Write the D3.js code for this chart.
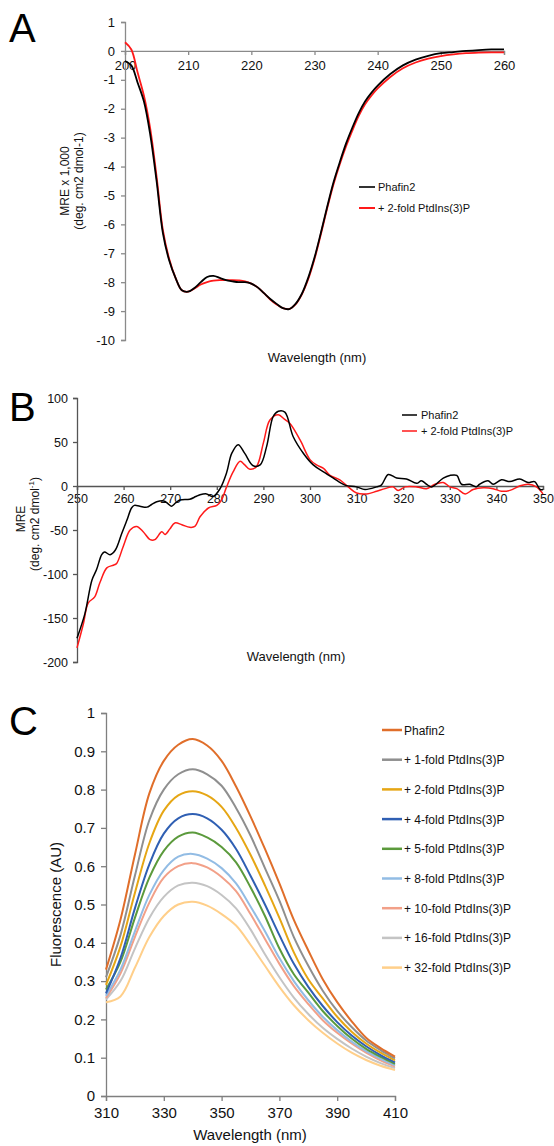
<!DOCTYPE html>
<html>
<head>
<meta charset="utf-8">
<script src="https://cdn.jsdelivr.net/npm/d3@7"></script>
<style>
body { margin: 0; background: #fff; }
svg { display: block; font-family: "Liberation Sans", Arial, sans-serif; }
</style>
</head>
<body>
<svg id="fig" width="554" height="1146"></svg>
<script>
// ---------- Panel A : far-UV CD ----------
const A_wl = [200, 201, 202, 203, 204, 205, 206, 207, 208, 209, 210, 211, 212, 213, 214, 215, 216, 217, 218, 219,
    220, 221, 222, 223, 224, 225, 226, 227, 228, 229, 230, 231, 232, 233, 234, 235, 236, 237, 238, 239,
    240, 242, 244, 246, 248, 250, 252, 254, 256, 258, 260];
const A_phafin2 = [-0.35, -0.5, -1.1, -1.75, -2.9, -4.5, -6.3, -7.25, -7.85, -8.28, -8.33, -8.2, -8.0, -7.82, -7.78, -7.85, -7.93, -7.97, -8.0, -8.0,
    -8.05, -8.18, -8.38, -8.58, -8.75, -8.9, -8.93, -8.75, -8.4, -7.85, -7.15, -6.3, -5.4, -4.55, -3.85, -3.2, -2.65, -2.15, -1.75, -1.45,
    -1.2, -0.8, -0.5, -0.3, -0.17, -0.08, -0.04, 0.0, 0.03, 0.05, 0.05];
const A_ptdins = [0.3, 0.05, -0.75, -1.55, -2.7, -4.35, -6.2, -7.2, -7.85, -8.28, -8.33, -8.22, -8.08, -8.0, -7.95, -7.93, -7.93, -7.93, -7.94, -7.97,
    -8.05, -8.18, -8.38, -8.6, -8.77, -8.9, -8.93, -8.77, -8.42, -7.9, -7.2, -6.35, -5.45, -4.62, -3.92, -3.3, -2.75, -2.25, -1.85, -1.55,
    -1.3, -0.9, -0.6, -0.4, -0.27, -0.18, -0.12, -0.08, -0.06, -0.05, -0.05];
const A_xticks = [200, 210, 220, 230, 240, 250, 260];
const A_yticks = [-10, -9, -8, -7, -6, -5, -4, -3, -2, -1, 0, 1];

// ---------- Panel B : near-UV CD ----------
const B_wl_phafin2 = [250, 251.7, 253.2, 254.2, 255.3, 255.9, 257.1, 258.2, 259.6, 260.7, 261.7, 262.3, 263.5, 265, 266, 267.1, 268.6, 269.5,
    270.3, 271.2, 272.1, 274.2, 275.5, 276.4, 277.8, 279.2, 280.7, 282.1, 283.2, 284.6, 286, 287.8, 289.3, 290.7, 292.1, 293.2, 294.6,
    296.4, 298.6, 300.7, 302.9, 305, 307.5, 310, 311.8, 314.3, 315.3, 316.8, 318.6, 320.7, 322.9, 323.9, 325, 326.1, 328.6, 330, 331.5,
    332.5, 334.3, 335.7, 336.4, 338.2, 339.3, 341.1, 342.9, 345, 346.8, 348.2, 349.4, 350];
const B_phafin2 = [-173, -145, -107, -95, -78, -75, -78, -73, -54, -39, -25, -22, -23, -24, -21, -18, -17, -20,
    -23, -19, -16, -15, -12, -10, -9, -12, -3, 15, 37, 47, 37, 23, 24, 45, 79, 85, 84,
    56, 37, 24, 16, 9, 1, -1, -4, -1, 1, 13, 9, 8, 3, 6, 2, -1, 9, 12, 12,
    2, 2, -1, 2, 6, 2, 7, 5, 8, 4, 5, -4, -4];
const B_wl_ptdins = [250, 251.4, 252.4, 253.8, 254.9, 256.4, 257.8, 258.5, 259.9, 261.4, 262.8, 264.2, 265.7, 266.7, 268.2, 268.9, 269.9,
    271, 272.5, 274.2, 275.3, 276.4, 278.2, 280, 281, 282.1, 283.5, 285, 286, 287.1, 288.5, 290, 291.4, 293.2, 294.5, 295.7, 297.9,
    300, 301.4, 302.9, 304.3, 306.4, 308.2, 310, 312.2, 314.3, 316.1, 317.8, 318.9, 320.4, 322.9, 325, 326.8, 328.6, 330, 331.5,
    333.3, 335, 337.2, 339.3, 341.1, 342.9, 345, 346.8, 348.6, 350];
const B_ptdins = [-184, -156, -133, -126, -110, -93, -90, -88, -69, -50, -46, -52, -61, -61, -52, -55, -49,
    -42, -44, -47, -46, -35, -25, -22, -16, -1, 16, 28, 24, 19, 22, 49, 75, 81, 76, 71, 52,
    30, 24, 20, 12, 7, -1, -8, -9, -6, -3, -1, -5, -1, -1, -3, 2, 4, -1, -3,
    -9, -4, -2, -3, -6, -5, 0, 2, -1, -9];
const B_xticks = [250, 260, 270, 280, 290, 300, 310, 320, 330, 340, 350];
const B_yticks = [-200, -150, -100, -50, 0, 50, 100];

// ---------- Panel C : fluorescence titration ----------
const C_wl = [310, 315, 320, 325, 330, 335, 340, 345, 350, 355, 360, 365, 370, 375, 380, 385, 390, 395, 400, 405, 410];
const C_phafin2 = [0.33, 0.46, 0.63, 0.79, 0.875, 0.917, 0.932, 0.915, 0.875, 0.808, 0.73, 0.645, 0.555, 0.46, 0.38, 0.305, 0.245, 0.195, 0.152, 0.125, 0.103];
const C_fold1 = [0.31, 0.42, 0.575, 0.72, 0.8, 0.84, 0.853, 0.84, 0.81, 0.752, 0.68, 0.595, 0.51, 0.415, 0.34, 0.275, 0.222, 0.18, 0.145, 0.12, 0.098];
const C_fold2 = [0.29, 0.39, 0.53, 0.66, 0.745, 0.785, 0.796, 0.785, 0.755, 0.7, 0.63, 0.55, 0.465, 0.375, 0.305, 0.255, 0.207, 0.168, 0.137, 0.113, 0.093];
const C_fold4 = [0.268, 0.36, 0.49, 0.605, 0.685, 0.725, 0.736, 0.725, 0.695, 0.645, 0.575, 0.5, 0.42, 0.345, 0.285, 0.235, 0.193, 0.158, 0.13, 0.107, 0.088];
const C_fold5 = [0.278, 0.35, 0.465, 0.57, 0.64, 0.677, 0.688, 0.675, 0.65, 0.61, 0.545, 0.47, 0.385, 0.318, 0.27, 0.222, 0.183, 0.15, 0.123, 0.102, 0.084];
const C_fold8 = [0.262, 0.33, 0.43, 0.525, 0.59, 0.625, 0.632, 0.62, 0.595, 0.555, 0.495, 0.43, 0.36, 0.3, 0.25, 0.207, 0.172, 0.142, 0.117, 0.097, 0.08];
const C_fold10 = [0.256, 0.32, 0.415, 0.505, 0.57, 0.6, 0.608, 0.597, 0.572, 0.535, 0.475, 0.41, 0.345, 0.287, 0.24, 0.198, 0.165, 0.137, 0.113, 0.093, 0.077];
const C_fold16 = [0.252, 0.3, 0.385, 0.465, 0.52, 0.55, 0.557, 0.548, 0.525, 0.49, 0.435, 0.37, 0.31, 0.257, 0.214, 0.178, 0.149, 0.124, 0.103, 0.086, 0.073];
const C_fold32 = [0.245, 0.26, 0.335, 0.415, 0.47, 0.5, 0.507, 0.497, 0.475, 0.445, 0.395, 0.34, 0.285, 0.237, 0.198, 0.165, 0.137, 0.113, 0.094, 0.079, 0.068];
const C_labels = ["Phafin2", "+ 1-fold PtdIns(3)P", "+ 2-fold PtdIns(3)P", "+ 4-fold PtdIns(3)P", "+ 5-fold PtdIns(3)P",
    "+ 8-fold PtdIns(3)P", "+ 10-fold PtdIns(3)P", "+ 16-fold PtdIns(3)P", "+ 32-fold PtdIns(3)P"];
const C_colors = ["#e06e2a", "#8f8f8f", "#e6a614", "#2f5fb3", "#5b9a3c", "#92bce4", "#f2a088", "#c4c4c4", "#ffcf8a"];
const C_xticks = [310, 330, 350, 370, 390, 410];
const C_yticks = [0, 0.1, 0.2, 0.3, 0.4, 0.5, 0.6, 0.7, 0.8, 0.9, 1];

const FONT = '"Liberation Sans", Arial, sans-serif';
const svg = d3.select("#fig");
svg.append("rect").attr("width", 554).attr("height", 1146).attr("fill", "#fff");

// plain hyphen for negatives, like the original figure
const plain = d => String(+d.toFixed(1));

function styleAxis(sel, color, size) {
    sel.attr("font-family", null).attr("font-size", null);
    sel.select(".domain").attr("stroke", color).attr("stroke-width", 1.3);
    sel.selectAll(".tick line").attr("stroke", color).attr("stroke-width", 1.3);
    sel.selectAll(".tick text").attr("fill", "#111").style("font-size", size + "px").style("font-family", FONT);
}

function letter(t, x, y) {
    svg.append("text").attr("x", x).attr("y", y).text(t)
        .style("font-size", "40px").style("font-family", FONT).attr("fill", "#000");
}

function addText(t, x, y, size, anchor, rotate) {
    let el = svg.append("text").attr("text-anchor", anchor || "start")
        .style("font-size", size + "px").style("font-family", FONT).attr("fill", "#111");
    if (rotate) el.attr("transform", `translate(${x},${y}) rotate(-90)`);
    else el.attr("x", x).attr("y", y);
    el.text(t);
    return el;
}

// ===== Panel A =====
let xA = d3.scaleLinear().domain([200, 260]).range([125, 504]);
let yA = d3.scaleLinear().domain([-10, 1]).range([340, 22]);

letter("A", 9, 42);

svg.append("g").attr("transform", `translate(0,${yA(0)})`)
    .call(d3.axisBottom(xA).tickValues(A_xticks).tickSize(4).tickPadding(6).tickFormat(plain))
    .call(g => styleAxis(g, "#8a8a8a", 13));
svg.append("g").attr("transform", `translate(${xA(200)},0)`)
    .call(d3.axisLeft(yA).tickValues(A_yticks).tickSize(4).tickPadding(6).tickFormat(plain))
    .call(g => styleAxis(g, "#8a8a8a", 13));

let lineA = d3.line().x((d, i) => xA(A_wl[i])).y(d => yA(d)).curve(d3.curveCatmullRom);
svg.append("path").datum(A_ptdins).attr("d", lineA).attr("fill", "none").attr("stroke", "#ff1a1a").attr("stroke-width", 1.8);
svg.append("path").datum(A_phafin2).attr("d", lineA).attr("fill", "none").attr("stroke", "#000").attr("stroke-width", 1.8);

addText("MRE x 1,000", 69, yA(-4.5), 12, "middle", true);
addText("(deg. cm2 dmol-1)", 83, yA(-4.5), 12, "middle", true);
addText("Wavelength (nm)", 317, 362, 13, "middle");

// legend A
[["Phafin2", "#333"], ["+ 2-fold PtdIns(3)P", "#ff1a1a"]].forEach((d, i) => {
    let y = 187 + i * 21;
    svg.append("line").attr("x1", 359).attr("x2", 375).attr("y1", y).attr("y2", y).attr("stroke", d[1]).attr("stroke-width", 2);
    addText(d[0], 378, y + 4, 11, "start");
});

// ===== Panel B =====
let xB = d3.scaleLinear().domain([250, 350]).range([77, 543]);
let yB = d3.scaleLinear().domain([-200, 100]).range([662, 398]);

letter("B", 9, 421);

svg.append("g").attr("transform", `translate(0,${yB(0)})`)
    .call(d3.axisBottom(xB).tickValues(B_xticks).tickSize(4).tickPadding(4).tickFormat(plain))
    .call(g => styleAxis(g, "#555", 12.5));
svg.append("g").attr("transform", `translate(${xB(250)},0)`)
    .call(d3.axisLeft(yB).tickValues(B_yticks).tickSize(4).tickPadding(5).tickFormat(plain))
    .call(g => styleAxis(g, "#555", 12.5));

let lineB1 = d3.line().x((d, i) => xB(B_wl_phafin2[i])).y(d => yB(d)).curve(d3.curveCatmullRom);
let lineB2 = d3.line().x((d, i) => xB(B_wl_ptdins[i])).y(d => yB(d)).curve(d3.curveCatmullRom);
svg.append("path").datum(B_ptdins).attr("d", lineB2).attr("fill", "none").attr("stroke", "#ff1a1a").attr("stroke-width", 1.5);
svg.append("path").datum(B_phafin2).attr("d", lineB1).attr("fill", "none").attr("stroke", "#000").attr("stroke-width", 1.5);

addText("MRE", 25, 519, 12, "middle", true);
let tB = svg.append("text").attr("text-anchor", "middle").attr("transform", "translate(39,524) rotate(-90)")
    .style("font-size", "12px").style("font-family", FONT).attr("fill", "#111");
tB.append("tspan").text("(deg. cm2 dmol");
tB.append("tspan").attr("dy", -5).style("font-size", "8px").text("-1");
tB.append("tspan").attr("dy", 5).text(")");
addText("Wavelength (nm)", 296, 661, 13, "middle");

// legend B
[["Phafin2", "#000"], ["+ 2-fold PtdIns(3)P", "#ff1a1a"]].forEach((d, i) => {
    let y = 415 + i * 16;
    svg.append("line").attr("x1", 402).attr("x2", 417).attr("y1", y).attr("y2", y).attr("stroke", d[1]).attr("stroke-width", 1.5);
    addText(d[0], 421, y + 4, 11, "start");
});

// ===== Panel C =====
let xC = d3.scaleLinear().domain([310, 410]).range([106, 395]);
let yC = d3.scaleLinear().domain([0, 1]).range([1096, 713]);

letter("C", 9, 735);

svg.append("g").attr("transform", `translate(0,${yC(0)})`)
    .call(d3.axisBottom(xC).tickValues(C_xticks).tickSize(5).tickPadding(6).tickFormat(plain))
    .call(g => styleAxis(g, "#7f7f7f", 15));
svg.append("g").attr("transform", `translate(${xC(310)},0)`)
    .call(d3.axisLeft(yC).tickValues(C_yticks).tickSize(5).tickPadding(6).tickFormat(plain))
    .call(g => styleAxis(g, "#7f7f7f", 15));

let C_series = [C_phafin2, C_fold1, C_fold2, C_fold4, C_fold5, C_fold8, C_fold10, C_fold16, C_fold32];
let lineC = d3.line().x((d, i) => xC(C_wl[i])).y(d => yC(d)).curve(d3.curveCatmullRom);
C_series.slice().reverse().forEach((s, j) => {
    let i = C_series.length - 1 - j;
    svg.append("path").datum(s).attr("d", lineC).attr("fill", "none").attr("stroke", C_colors[i]).attr("stroke-width", 2);
});

addText("Fluorescence (AU)", 61, yC(0.5), 15, "middle", true);
addText("Wavelength (nm)", 250, 1140, 15, "middle");

C_labels.forEach((lab, i) => {
    let y = 730 + i * 29.7;
    svg.append("line").attr("x1", 382).attr("x2", 402).attr("y1", y).attr("y2", y).attr("stroke", C_colors[i]).attr("stroke-width", 2.5);
    addText(lab, 404, y + 4.5, 12, "start");
});
</script>
</body>
</html>
